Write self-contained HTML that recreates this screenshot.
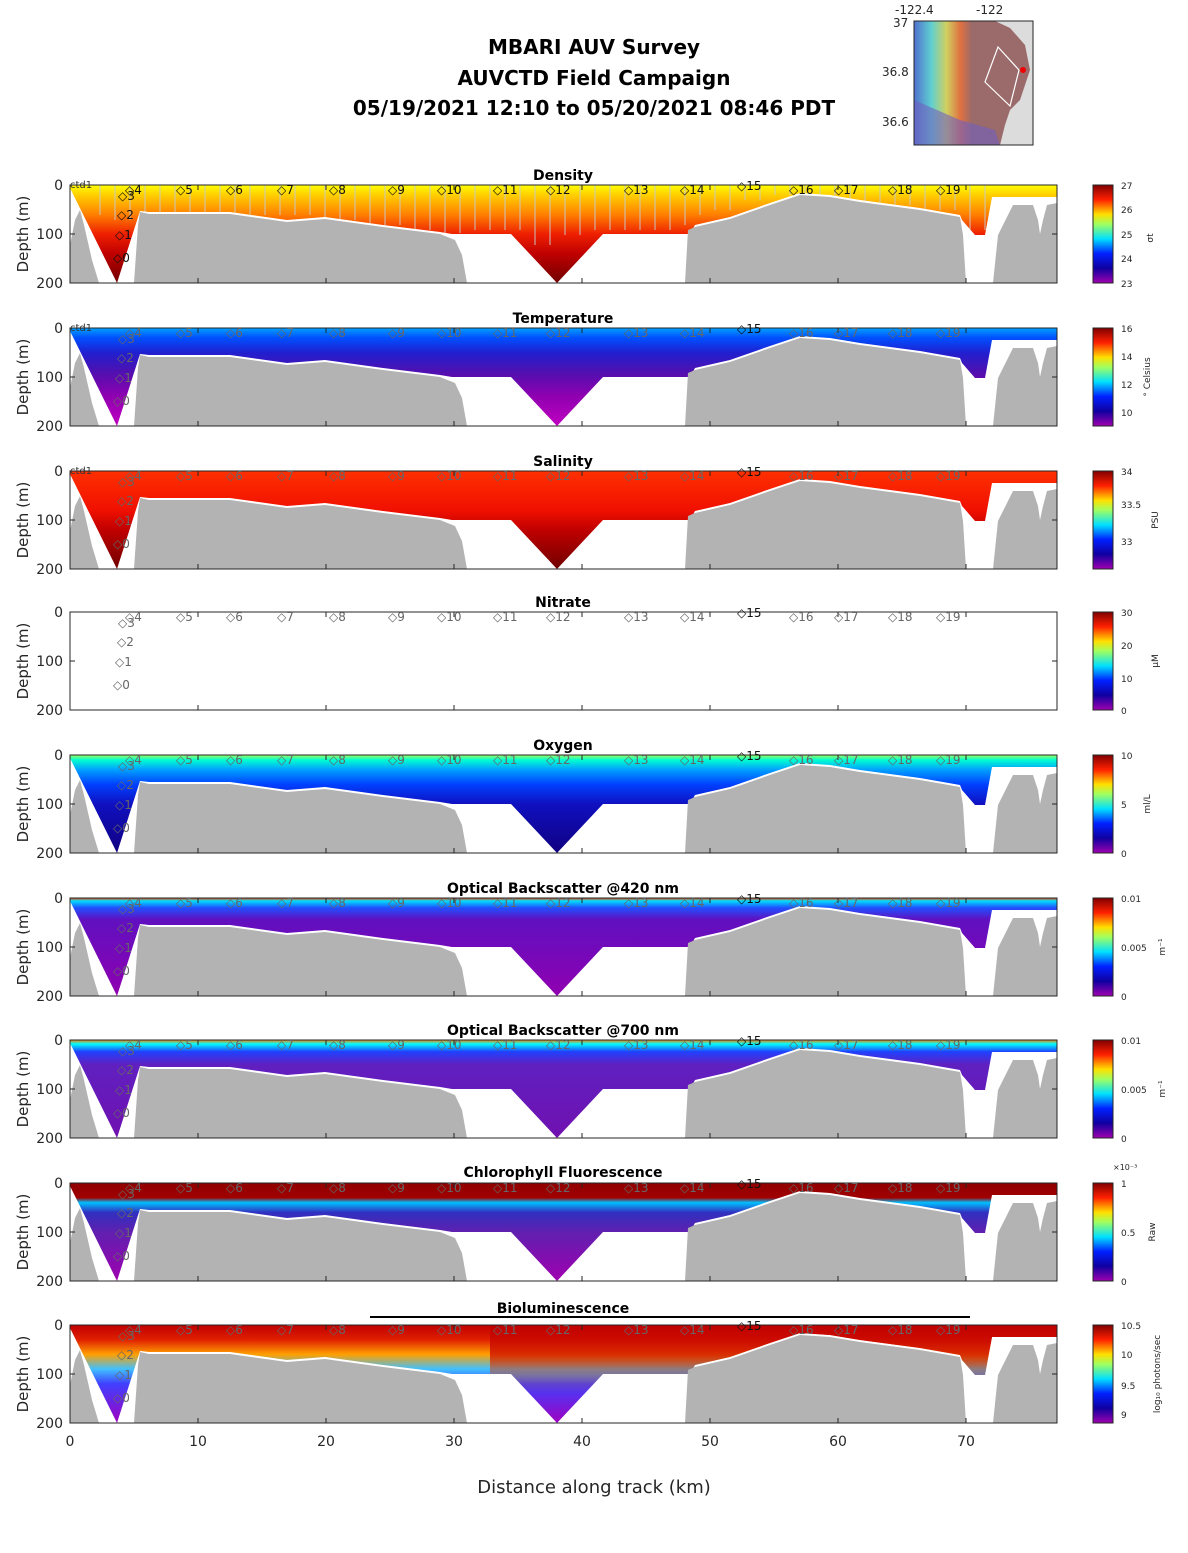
<!DOCTYPE html>
<html><head><meta charset="utf-8"><style>
body{margin:0;background:#fff}
svg text{font-family:"DejaVu Sans","Liberation Sans",sans-serif;fill:#262626}
.t{font-size:14px}.s{font-size:12px;fill:#666}.sk{font-size:12px;fill:#111}
.ti{font-size:14px;font-weight:bold;fill:#000}
.cb{font-size:9px}
</style></head><body>
<svg width="1188" height="1548" viewBox="0 0 1188 1548" xmlns="http://www.w3.org/2000/svg">
<defs>
<path id="bathy" d="M0,98 L0,60 L5,35 L10,25 L14,40 L22,75 L29,98 Z M64,98 L68,40 L70,27 L79,29 L160,29 L217,37 L255,34 L313,42 L370,49 L385,55 L392,70 L397,98 Z M615,98 L618,45 L625,42 L660,34 L700,20 L730,10 L760,12 L790,17 L850,25 L890,32 L893,50 L896,98 Z M923,98 L928,50 L943,20 L963,20 L968,35 L970,49 L973,35 L977,20 L987,18 L987,98 Z" fill="#b3b3b3"/>
<clipPath id="dc"><path d="M0,0 L987,0 L987,12 L922,12 L915,50 L905,50 L892,35 L890,30 L850,23 L790,15 L760,10 L730,8 L700,18 L660,32 L625,40 L620,49 L533,49 L487,98 L441,49 L382,49 L370,47 L313,40 L255,32 L217,35 L160,27 L79,27 L70,26 L47,98 L0,3 Z"/></clipPath>
<linearGradient id="gD" x1="0" y1="0" x2="0" y2="98" gradientUnits="userSpaceOnUse"><stop offset="0" stop-color="#ffff00"/><stop offset=".1" stop-color="#ffd000"/><stop offset=".3" stop-color="#ff8000"/><stop offset=".5" stop-color="#ee2000"/><stop offset=".7" stop-color="#c00000"/><stop offset="1" stop-color="#700000"/></linearGradient>
<linearGradient id="gT" x1="0" y1="0" x2="0" y2="98" gradientUnits="userSpaceOnUse"><stop offset="0" stop-color="#00a0ff"/><stop offset=".1" stop-color="#0050ff"/><stop offset=".25" stop-color="#2020d0"/><stop offset=".45" stop-color="#5010b0"/><stop offset=".7" stop-color="#9000b0"/><stop offset="1" stop-color="#c000c0"/></linearGradient>
<linearGradient id="gS" x1="0" y1="0" x2="0" y2="98" gradientUnits="userSpaceOnUse"><stop offset="0" stop-color="#ff3000"/><stop offset=".4" stop-color="#f01000"/><stop offset=".6" stop-color="#c00000"/><stop offset="1" stop-color="#700000"/></linearGradient>
<linearGradient id="gO" x1="0" y1="0" x2="0" y2="98" gradientUnits="userSpaceOnUse"><stop offset="0" stop-color="#a0ff60"/><stop offset=".05" stop-color="#00ffd0"/><stop offset=".15" stop-color="#00a0ff"/><stop offset=".3" stop-color="#0040ff"/><stop offset=".5" stop-color="#1010c0"/><stop offset="1" stop-color="#100080"/></linearGradient>
<linearGradient id="gB1" x1="0" y1="0" x2="0" y2="98" gradientUnits="userSpaceOnUse"><stop offset="0" stop-color="#ff4000"/><stop offset=".03" stop-color="#00e0ff"/><stop offset=".1" stop-color="#2050ff"/><stop offset=".22" stop-color="#6010c0"/><stop offset="1" stop-color="#9000b0"/></linearGradient>
<linearGradient id="gB2" x1="0" y1="0" x2="0" y2="98" gradientUnits="userSpaceOnUse"><stop offset="0" stop-color="#ff8000"/><stop offset=".04" stop-color="#00ffff"/><stop offset=".12" stop-color="#2040ff"/><stop offset=".25" stop-color="#6020c0"/><stop offset="1" stop-color="#7010b0"/></linearGradient>
<linearGradient id="gC" x1="0" y1="0" x2="0" y2="98" gradientUnits="userSpaceOnUse"><stop offset="0" stop-color="#900000"/><stop offset=".15" stop-color="#a00000"/><stop offset=".2" stop-color="#00c0ff"/><stop offset=".3" stop-color="#3030c0"/><stop offset=".5" stop-color="#6020b0"/><stop offset="1" stop-color="#a000b0"/></linearGradient>
<linearGradient id="gL" x1="0" y1="0" x2="0" y2="98" gradientUnits="userSpaceOnUse"><stop offset="0" stop-color="#c00000"/><stop offset=".15" stop-color="#e02000"/><stop offset=".3" stop-color="#ffa000"/><stop offset=".45" stop-color="#40c0ff"/><stop offset=".6" stop-color="#4040ff"/><stop offset="1" stop-color="#a000c0"/></linearGradient>
<linearGradient id="gL2" x1="0" y1="0" x2="0" y2="98" gradientUnits="userSpaceOnUse"><stop offset="0" stop-color="#c00000" stop-opacity=".9"/><stop offset=".3" stop-color="#d01000" stop-opacity=".8"/><stop offset=".55" stop-color="#e05000" stop-opacity=".3"/><stop offset=".7" stop-color="#e05000" stop-opacity="0"/></linearGradient>
<linearGradient id="jet" x1="0" y1="1" x2="0" y2="0"><stop offset="0" stop-color="#a000b0"/><stop offset=".15" stop-color="#1000a0"/><stop offset=".3" stop-color="#0020ff"/><stop offset=".45" stop-color="#00e0ff"/><stop offset=".6" stop-color="#a0ff60"/><stop offset=".7" stop-color="#ffe000"/><stop offset=".85" stop-color="#ff2000"/><stop offset="1" stop-color="#800000"/></linearGradient>
<linearGradient id="map" x1="0" y1="0" x2="1" y2="0"><stop offset="0" stop-color="#5070d0"/><stop offset=".15" stop-color="#60d0d0"/><stop offset=".28" stop-color="#d0d060"/><stop offset=".4" stop-color="#e07040"/><stop offset=".5" stop-color="#9b6a6a"/><stop offset="1" stop-color="#9b6a6a"/></linearGradient>
<g id="ax">
<rect x="0" y="0" width="987" height="98" fill="none" stroke="#262626" stroke-width="1"/>
<path d="M0,49h5M0,0h5M982,49h5M982,0h5M982,98h5M128,98v-5M256,98v-5M384,98v-5M512,98v-5M640,98v-5M768,98v-5M896,98v-5M128,0v5M256,0v5M384,0v5M512,0v5M640,0v5M768,0v5M896,0v5" stroke="#262626"/>
</g>
</defs>

<text x="594" y="54" text-anchor="middle" style="font-size:20px;font-weight:bold;fill:#000">MBARI AUV Survey</text>
<text x="594" y="85" text-anchor="middle" style="font-size:20px;font-weight:bold;fill:#000">AUVCTD Field Campaign</text>
<text x="594" y="115" text-anchor="middle" style="font-size:20px;font-weight:bold;fill:#000">05/19/2021 12:10  to 05/20/2021 08:46 PDT</text>

<!-- map -->
<rect x="914" y="21" width="119" height="124" fill="#dcdcdc"/>
<path d="M914,21 L995,21 L1010,28 L1025,45 L1030,70 L1020,100 L1010,110 L1005,125 L1000,145 L914,145 Z" fill="url(#map)"/>
<path d="M914,100 L960,120 L995,130 L1000,145 L914,145Z" fill="#7060c0" opacity=".6"/>
<path d="M998,47 L1019,70 L1010,106 L985,82 Z" fill="none" stroke="#fff" stroke-width="1.2"/>
<circle cx="1023" cy="70" r="3" fill="#e00"/>
<rect x="914" y="21" width="119" height="124" fill="none" stroke="#262626"/>
<text x="895" y="14" style="font-size:12px">-122.4</text><text x="976" y="14" style="font-size:12px">-122</text>
<text x="893" y="27" style="font-size:12px">37</text><text x="882" y="76" style="font-size:12px">36.8</text><text x="882" y="126" style="font-size:12px">36.6</text>

<!-- Panels -->
<g transform="translate(70,185)">
<g clip-path="url(#dc)"><rect width="987" height="98" fill="url(#gD)"/>
<path d="M30,0v30M45,0v35M60,0v35M75,0v30M90,0v30M105,0v30M120,0v30M135,0v30M150,0v30M165,0v30M180,0v30M195,0v30M210,0v30M225,0v30M240,0v30M255,0v35M270,0v35M285,0v35M300,0v40M315,0v40M330,0v40M345,0v45M360,0v45M375,0v48M390,0v48M405,0v45M420,0v45M435,0v45M450,0v45M465,0v60M480,0v60M495,0v50M510,0v50M525,0v45M540,0v45M555,0v45M570,0v45M585,0v45M600,0v45M615,0v40M630,0v30M645,0v25M660,0v25M675,0v15M690,0v15M705,0v10M720,0v10M735,0v12M750,0v12M765,0v15M780,0v15M795,0v20M810,0v20M825,0v20M840,0v20M855,0v25M870,0v25M885,0v25M900,0v45M915,0v45" stroke="#c8c8c8" stroke-width="1.2" opacity=".8"/></g>
<use href="#bathy"/><use href="#ax"/>
<text x="0" y="3" style="font-size:10px;fill:#333">ctd1</text>
<text x="55" y="9" class="sk">◇4</text><text x="48" y="15" class="sk">◇3</text><text x="47" y="34" class="sk">◇2</text><text x="45" y="54" class="sk">◇1</text><text x="43" y="77" class="sk">◇0</text>
<text x="106" y="9" class="sk">◇5</text><text x="156" y="9" class="sk">◇6</text><text x="207" y="9" class="sk">◇7</text><text x="259" y="9" class="sk">◇8</text><text x="318" y="9" class="sk">◇9</text><text x="367" y="9" class="sk">◇10</text><text x="423" y="9" class="sk">◇11</text><text x="476" y="9" class="sk">◇12</text><text x="554" y="9" class="sk">◇13</text><text x="610" y="9" class="sk">◇14</text><text x="667" y="5" class="sk">◇15</text><text x="719" y="9" class="sk">◇16</text><text x="764" y="9" class="sk">◇17</text><text x="818" y="9" class="sk">◇18</text><text x="866" y="9" class="sk">◇19</text>
</g>

<g transform="translate(70,328)">
<g clip-path="url(#dc)"><rect width="987" height="98" fill="url(#gT)"/></g>
<use href="#bathy"/><use href="#ax"/>
<text x="0" y="3" style="font-size:10px;fill:#333">ctd1</text>
<text x="55" y="9" class="s">◇4</text><text x="48" y="15" class="s">◇3</text><text x="47" y="34" class="s">◇2</text><text x="45" y="54" class="s">◇1</text><text x="43" y="77" class="s">◇0</text>
<text x="106" y="9" class="s">◇5</text><text x="156" y="9" class="s">◇6</text><text x="207" y="9" class="s">◇7</text><text x="259" y="9" class="s">◇8</text><text x="318" y="9" class="s">◇9</text><text x="367" y="9" class="s">◇10</text><text x="423" y="9" class="s">◇11</text><text x="476" y="9" class="s">◇12</text><text x="554" y="9" class="s">◇13</text><text x="610" y="9" class="s">◇14</text><text x="667" y="5" class="sk">◇15</text><text x="719" y="9" class="s">◇16</text><text x="764" y="9" class="s">◇17</text><text x="818" y="9" class="s">◇18</text><text x="866" y="9" class="s">◇19</text>
</g>

<g transform="translate(70,471)">
<g clip-path="url(#dc)"><rect width="987" height="98" fill="url(#gS)"/></g>
<use href="#bathy"/><use href="#ax"/>
<text x="0" y="3" style="font-size:10px;fill:#333">ctd1</text>
<text x="55" y="9" class="s">◇4</text><text x="48" y="15" class="s">◇3</text><text x="47" y="34" class="s">◇2</text><text x="45" y="54" class="s">◇1</text><text x="43" y="77" class="s">◇0</text>
<text x="106" y="9" class="s">◇5</text><text x="156" y="9" class="s">◇6</text><text x="207" y="9" class="s">◇7</text><text x="259" y="9" class="s">◇8</text><text x="318" y="9" class="s">◇9</text><text x="367" y="9" class="s">◇10</text><text x="423" y="9" class="s">◇11</text><text x="476" y="9" class="s">◇12</text><text x="554" y="9" class="s">◇13</text><text x="610" y="9" class="s">◇14</text><text x="667" y="5" class="sk">◇15</text><text x="719" y="9" class="s">◇16</text><text x="764" y="9" class="s">◇17</text><text x="818" y="9" class="s">◇18</text><text x="866" y="9" class="s">◇19</text>
</g>

<g transform="translate(70,612)">
<use href="#ax"/>
<text x="55" y="9" class="s">◇4</text><text x="48" y="15" class="s">◇3</text><text x="47" y="34" class="s">◇2</text><text x="45" y="54" class="s">◇1</text><text x="43" y="77" class="s">◇0</text>
<text x="106" y="9" class="s">◇5</text><text x="156" y="9" class="s">◇6</text><text x="207" y="9" class="s">◇7</text><text x="259" y="9" class="s">◇8</text><text x="318" y="9" class="s">◇9</text><text x="367" y="9" class="s">◇10</text><text x="423" y="9" class="s">◇11</text><text x="476" y="9" class="s">◇12</text><text x="554" y="9" class="s">◇13</text><text x="610" y="9" class="s">◇14</text><text x="667" y="5" class="sk">◇15</text><text x="719" y="9" class="s">◇16</text><text x="764" y="9" class="s">◇17</text><text x="818" y="9" class="s">◇18</text><text x="866" y="9" class="s">◇19</text>
</g>

<g transform="translate(70,755)">
<g clip-path="url(#dc)"><rect width="987" height="98" fill="url(#gO)"/></g>
<use href="#bathy"/><use href="#ax"/>
<text x="55" y="9" class="s">◇4</text><text x="48" y="15" class="s">◇3</text><text x="47" y="34" class="s">◇2</text><text x="45" y="54" class="s">◇1</text><text x="43" y="77" class="s">◇0</text>
<text x="106" y="9" class="s">◇5</text><text x="156" y="9" class="s">◇6</text><text x="207" y="9" class="s">◇7</text><text x="259" y="9" class="s">◇8</text><text x="318" y="9" class="s">◇9</text><text x="367" y="9" class="s">◇10</text><text x="423" y="9" class="s">◇11</text><text x="476" y="9" class="s">◇12</text><text x="554" y="9" class="s">◇13</text><text x="610" y="9" class="s">◇14</text><text x="667" y="5" class="sk">◇15</text><text x="719" y="9" class="s">◇16</text><text x="764" y="9" class="s">◇17</text><text x="818" y="9" class="s">◇18</text><text x="866" y="9" class="s">◇19</text>
</g>

<g transform="translate(70,898)">
<g clip-path="url(#dc)"><rect width="987" height="98" fill="url(#gB1)"/></g>
<use href="#bathy"/><use href="#ax"/>
<text x="55" y="9" class="s">◇4</text><text x="48" y="15" class="s">◇3</text><text x="47" y="34" class="s">◇2</text><text x="45" y="54" class="s">◇1</text><text x="43" y="77" class="s">◇0</text>
<text x="106" y="9" class="s">◇5</text><text x="156" y="9" class="s">◇6</text><text x="207" y="9" class="s">◇7</text><text x="259" y="9" class="s">◇8</text><text x="318" y="9" class="s">◇9</text><text x="367" y="9" class="s">◇10</text><text x="423" y="9" class="s">◇11</text><text x="476" y="9" class="s">◇12</text><text x="554" y="9" class="s">◇13</text><text x="610" y="9" class="s">◇14</text><text x="667" y="5" class="sk">◇15</text><text x="719" y="9" class="s">◇16</text><text x="764" y="9" class="s">◇17</text><text x="818" y="9" class="s">◇18</text><text x="866" y="9" class="s">◇19</text>
</g>

<g transform="translate(70,1040)">
<g clip-path="url(#dc)"><rect width="987" height="98" fill="url(#gB2)"/></g>
<use href="#bathy"/><use href="#ax"/>
<text x="55" y="9" class="s">◇4</text><text x="48" y="15" class="s">◇3</text><text x="47" y="34" class="s">◇2</text><text x="45" y="54" class="s">◇1</text><text x="43" y="77" class="s">◇0</text>
<text x="106" y="9" class="s">◇5</text><text x="156" y="9" class="s">◇6</text><text x="207" y="9" class="s">◇7</text><text x="259" y="9" class="s">◇8</text><text x="318" y="9" class="s">◇9</text><text x="367" y="9" class="s">◇10</text><text x="423" y="9" class="s">◇11</text><text x="476" y="9" class="s">◇12</text><text x="554" y="9" class="s">◇13</text><text x="610" y="9" class="s">◇14</text><text x="667" y="5" class="sk">◇15</text><text x="719" y="9" class="s">◇16</text><text x="764" y="9" class="s">◇17</text><text x="818" y="9" class="s">◇18</text><text x="866" y="9" class="s">◇19</text>
</g>

<g transform="translate(70,1183)">
<g clip-path="url(#dc)"><rect width="987" height="98" fill="url(#gC)"/></g>
<use href="#bathy"/><use href="#ax"/>
<text x="55" y="9" class="s">◇4</text><text x="48" y="15" class="s">◇3</text><text x="47" y="34" class="s">◇2</text><text x="45" y="54" class="s">◇1</text><text x="43" y="77" class="s">◇0</text>
<text x="106" y="9" class="s">◇5</text><text x="156" y="9" class="s">◇6</text><text x="207" y="9" class="s">◇7</text><text x="259" y="9" class="s">◇8</text><text x="318" y="9" class="s">◇9</text><text x="367" y="9" class="s">◇10</text><text x="423" y="9" class="s">◇11</text><text x="476" y="9" class="s">◇12</text><text x="554" y="9" class="s">◇13</text><text x="610" y="9" class="s">◇14</text><text x="667" y="5" class="sk">◇15</text><text x="719" y="9" class="s">◇16</text><text x="764" y="9" class="s">◇17</text><text x="818" y="9" class="s">◇18</text><text x="866" y="9" class="s">◇19</text>
</g>

<g transform="translate(70,1325)">
<g clip-path="url(#dc)"><rect width="987" height="98" fill="url(#gL)"/><rect x="420" y="0" width="567" height="98" fill="url(#gL2)"/></g>
<use href="#bathy"/><use href="#ax"/>
<path d="M300,-8 L900,-8" stroke="#000" stroke-width="2"/>
<text x="55" y="9" class="s">◇4</text><text x="48" y="15" class="s">◇3</text><text x="47" y="34" class="s">◇2</text><text x="45" y="54" class="s">◇1</text><text x="43" y="77" class="s">◇0</text>
<text x="106" y="9" class="s">◇5</text><text x="156" y="9" class="s">◇6</text><text x="207" y="9" class="s">◇7</text><text x="259" y="9" class="s">◇8</text><text x="318" y="9" class="s">◇9</text><text x="367" y="9" class="s">◇10</text><text x="423" y="9" class="s">◇11</text><text x="476" y="9" class="s">◇12</text><text x="554" y="9" class="s">◇13</text><text x="610" y="9" class="s">◇14</text><text x="667" y="5" class="sk">◇15</text><text x="719" y="9" class="s">◇16</text><text x="764" y="9" class="s">◇17</text><text x="818" y="9" class="s">◇18</text><text x="866" y="9" class="s">◇19</text>
</g>

<!-- titles -->
<text x="563" y="180" text-anchor="middle" class="ti">Density</text>
<text x="563" y="323" text-anchor="middle" class="ti">Temperature</text>
<text x="563" y="466" text-anchor="middle" class="ti">Salinity</text>
<text x="563" y="607" text-anchor="middle" class="ti">Nitrate</text>
<text x="563" y="750" text-anchor="middle" class="ti">Oxygen</text>
<text x="563" y="893" text-anchor="middle" class="ti">Optical Backscatter @420 nm</text>
<text x="563" y="1035" text-anchor="middle" class="ti">Optical Backscatter @700 nm</text>
<text x="563" y="1177" text-anchor="middle" class="ti">Chlorophyll Fluorescence</text>
<text x="563" y="1313" text-anchor="middle" class="ti">Bioluminescence</text>

<!-- y tick labels & labels -->
<g class="t" text-anchor="end">
<text x="63" y="190">0</text><text x="63" y="239">100</text><text x="63" y="288">200</text>
<text x="63" y="333">0</text><text x="63" y="382">100</text><text x="63" y="431">200</text>
<text x="63" y="476">0</text><text x="63" y="525">100</text><text x="63" y="574">200</text>
<text x="63" y="617">0</text><text x="63" y="666">100</text><text x="63" y="715">200</text>
<text x="63" y="760">0</text><text x="63" y="809">100</text><text x="63" y="858">200</text>
<text x="63" y="903">0</text><text x="63" y="952">100</text><text x="63" y="1001">200</text>
<text x="63" y="1045">0</text><text x="63" y="1094">100</text><text x="63" y="1143">200</text>
<text x="63" y="1188">0</text><text x="63" y="1237">100</text><text x="63" y="1286">200</text>
<text x="63" y="1330">0</text><text x="63" y="1379">100</text><text x="63" y="1428">200</text>
</g>
<g style="font-size:15px">
<text transform="translate(28,234) rotate(-90)" text-anchor="middle">Depth (m)</text>
<text transform="translate(28,377) rotate(-90)" text-anchor="middle">Depth (m)</text>
<text transform="translate(28,520) rotate(-90)" text-anchor="middle">Depth (m)</text>
<text transform="translate(28,661) rotate(-90)" text-anchor="middle">Depth (m)</text>
<text transform="translate(28,804) rotate(-90)" text-anchor="middle">Depth (m)</text>
<text transform="translate(28,947) rotate(-90)" text-anchor="middle">Depth (m)</text>
<text transform="translate(28,1089) rotate(-90)" text-anchor="middle">Depth (m)</text>
<text transform="translate(28,1232) rotate(-90)" text-anchor="middle">Depth (m)</text>
<text transform="translate(28,1374) rotate(-90)" text-anchor="middle">Depth (m)</text>
</g>
<g class="t" text-anchor="middle">
<text x="70" y="1446">0</text><text x="198" y="1446">10</text><text x="326" y="1446">20</text><text x="454" y="1446">30</text><text x="582" y="1446">40</text><text x="710" y="1446">50</text><text x="838" y="1446">60</text><text x="966" y="1446">70</text>
</g>
<text x="594" y="1493" text-anchor="middle" style="font-size:18px">Distance along track (km)</text>

<!-- colorbars -->
<g stroke="#262626" fill="url(#jet)">
<rect x="1093" y="185" width="20" height="98"/><rect x="1093" y="328" width="20" height="98"/><rect x="1093" y="471" width="20" height="98"/><rect x="1093" y="612" width="20" height="98"/><rect x="1093" y="755" width="20" height="98"/><rect x="1093" y="898" width="20" height="98"/><rect x="1093" y="1040" width="20" height="98"/><rect x="1093" y="1183" width="20" height="98"/><rect x="1093" y="1325" width="20" height="98"/>
</g>
<g class="cb">
<text x="1121" y="189">27</text><text x="1121" y="213">26</text><text x="1121" y="238">25</text><text x="1121" y="262">24</text><text x="1121" y="287">23</text>
<text x="1121" y="332">16</text><text x="1121" y="360">14</text><text x="1121" y="388">12</text><text x="1121" y="416">10</text>
<text x="1121" y="475">34</text><text x="1121" y="508">33.5</text><text x="1121" y="545">33</text>
<text x="1121" y="616">30</text><text x="1121" y="649">20</text><text x="1121" y="682">10</text><text x="1121" y="714">0</text>
<text x="1121" y="759">10</text><text x="1121" y="808">5</text><text x="1121" y="857">0</text>
<text x="1121" y="902">0.01</text><text x="1121" y="951">0.005</text><text x="1121" y="1000">0</text>
<text x="1121" y="1044">0.01</text><text x="1121" y="1093">0.005</text><text x="1121" y="1142">0</text>
<text x="1113" y="1170" style="font-size:8px">×10⁻³</text><text x="1121" y="1187">1</text><text x="1121" y="1236">0.5</text><text x="1121" y="1285">0</text>
<text x="1121" y="1329">10.5</text><text x="1121" y="1358">10</text><text x="1121" y="1389">9.5</text><text x="1121" y="1418">9</text>
<text transform="translate(1153,238) rotate(-90)" text-anchor="middle">σt</text>
<text transform="translate(1150,377) rotate(-90)" text-anchor="middle">° Celsius</text>
<text transform="translate(1158,520) rotate(-90)" text-anchor="middle">PSU</text>
<text transform="translate(1158,661) rotate(-90)" text-anchor="middle">μM</text>
<text transform="translate(1150,804) rotate(-90)" text-anchor="middle">ml/L</text>
<text transform="translate(1165,947) rotate(-90)" text-anchor="middle">m⁻¹</text>
<text transform="translate(1165,1089) rotate(-90)" text-anchor="middle">m⁻¹</text>
<text transform="translate(1155,1232) rotate(-90)" text-anchor="middle">Raw</text>
<text transform="translate(1160,1374) rotate(-90)" text-anchor="middle">log₁₀ photons/sec</text>
</g>
</svg>
</body></html>
